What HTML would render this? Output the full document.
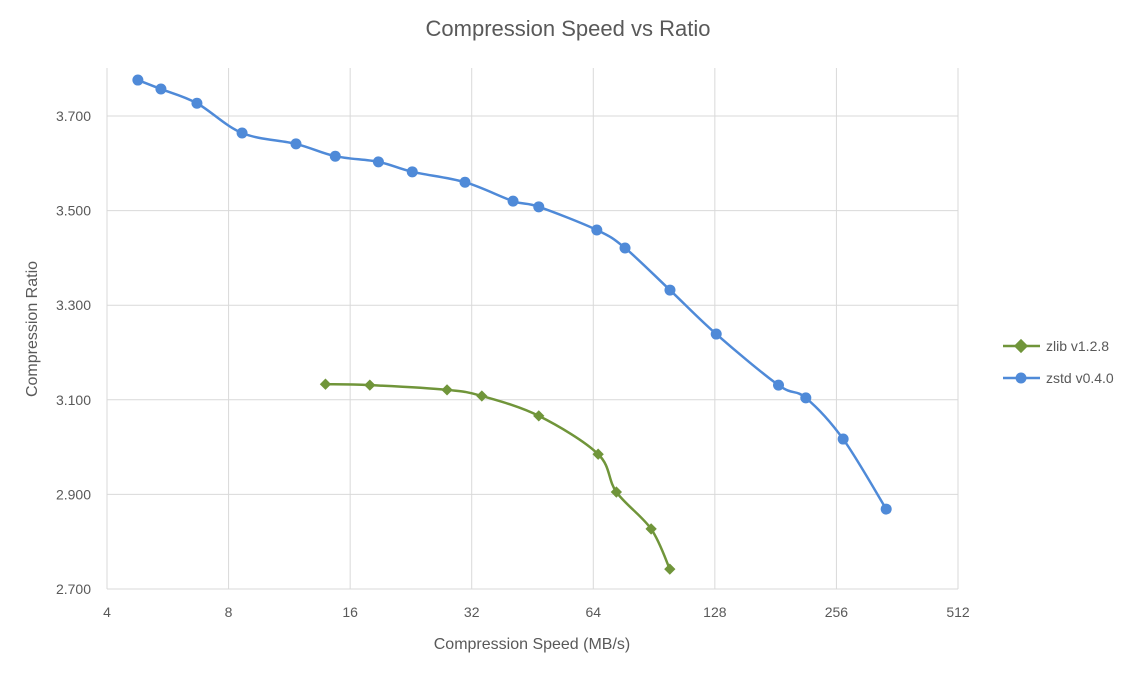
<!DOCTYPE html>
<html><head><meta charset="utf-8"><style>
body{margin:0;background:#fff;}
svg text{font-family:"Liberation Sans",sans-serif;fill:#595959;}
</style></head><body>
<svg id="chart" width="1139" height="676">
<text x="568" y="36" text-anchor="middle" font-size="22">Compression Speed vs Ratio</text>
<g id="grid"></g><g id="series"></g>
<text x="532" y="649" text-anchor="middle" font-size="16">Compression Speed (MB/s)</text>
<text transform="translate(37,329) rotate(-90)" text-anchor="middle" font-size="16">Compression Ratio</text>
<g>
<g>
<line x1="1003" y1="346" x2="1040" y2="346" stroke="#70953a" stroke-width="2.5"/>
<rect x="1016" y="341" width="10" height="10" fill="#70953a" transform="rotate(45 1021 346)"/>
<text x="1046" y="351" font-size="14">zlib v1.2.8</text></g>
<g>
<line x1="1003" y1="378" x2="1040" y2="378" stroke="#4f8ad8" stroke-width="2.5"/>
<circle cx="1021" cy="378" r="5.5" fill="#4f8ad8"/>
<text x="1046" y="383" font-size="14">zstd v0.4.0</text></g>
</g>
</svg>
<script>
const xTicks=[4,8,16,32,64,128,256,512];
const yTicks=[2.7,2.9,3.1,3.3,3.5,3.7];
const zstdSpeed=[4.77,5.44,6.68,8.64,11.75,14.7,18.8,22.8,30.8,40.5,46.9,65.3,76.7,99.1,129,184,215,266,340];
const zstdRatio=[3.776,3.757,3.727,3.664,3.641,3.615,3.603,3.582,3.560,3.520,3.508,3.459,3.421,3.332,3.239,3.131,3.104,3.017,2.869];
const zlibSpeed=[13.9,17.9,27.8,33.9,46.9,65.8,73,89,99];
const zlibRatio=[3.133,3.131,3.121,3.108,3.066,2.985,2.905,2.827,2.742];
const NS="http://www.w3.org/2000/svg";
const X0=107,X1=958,Y0=589;
const xs=v=>X0+(Math.log2(v)-2)*(X1-X0)/7;
const ys=v=>Y0-(v-2.7)*(473/1.0);
const grid=document.getElementById('grid'),ser=document.getElementById('series');
function mk(t,a,p){const e=document.createElementNS(NS,t);for(const k in a)e.setAttribute(k,a[k]);p.appendChild(e);return e;}
xTicks.forEach(t=>{const x=xs(t);
const l=mk('line',{x1:x,x2:x,y1:68,y2:Y0,stroke:'#d9d9d9','stroke-width':1},grid);


const tx=mk('text',{x:x,y:Y0+28,'text-anchor':'middle','font-size':14},grid);tx.textContent=t;

});
yTicks.forEach(t=>{const y=ys(t);
const l=mk('line',{x1:X0,x2:X1,y1:y,y2:y,stroke:'#d9d9d9','stroke-width':1},grid);


const tx=mk('text',{x:91,y:y+5,'text-anchor':'end','font-size':14},grid);tx.textContent=t.toFixed(3);

});
function path(P){let d=`M${P[0][0]},${P[0][1]}`;
for(let i=0;i<P.length-1;i++){const p0=P[i-1]||P[i],p1=P[i],p2=P[i+1],p3=P[i+2]||p2;const k=6;
d+=`C${p1[0]+(p2[0]-p0[0])/k},${p1[1]+(p2[1]-p0[1])/k} ${p2[0]-(p3[0]-p1[0])/k},${p2[1]-(p3[1]-p1[1])/k} ${p2[0]},${p2[1]}`;}return d;}
function series(sp,ra,col,name,diamond){const P=sp.map((s,i)=>[xs(s),ys(ra[i])]);
const g=mk('g',{},ser);


const pth=mk('path',{d:path(P),fill:'none',stroke:col,'stroke-width':2.5},g);


P.forEach(p=>{let m;
if(diamond)m=mk('rect',{x:p[0]-4,y:p[1]-4,width:8,height:8,fill:col,transform:`rotate(45 ${p[0]} ${p[1]})`},g);
else m=mk('circle',{cx:p[0],cy:p[1],r:5.5,fill:col},g);

});}
series(zlibSpeed,zlibRatio,'#70953a','zlib',true);
series(zstdSpeed,zstdRatio,'#4f8ad8','zstd',false);
</script>
</body></html>
